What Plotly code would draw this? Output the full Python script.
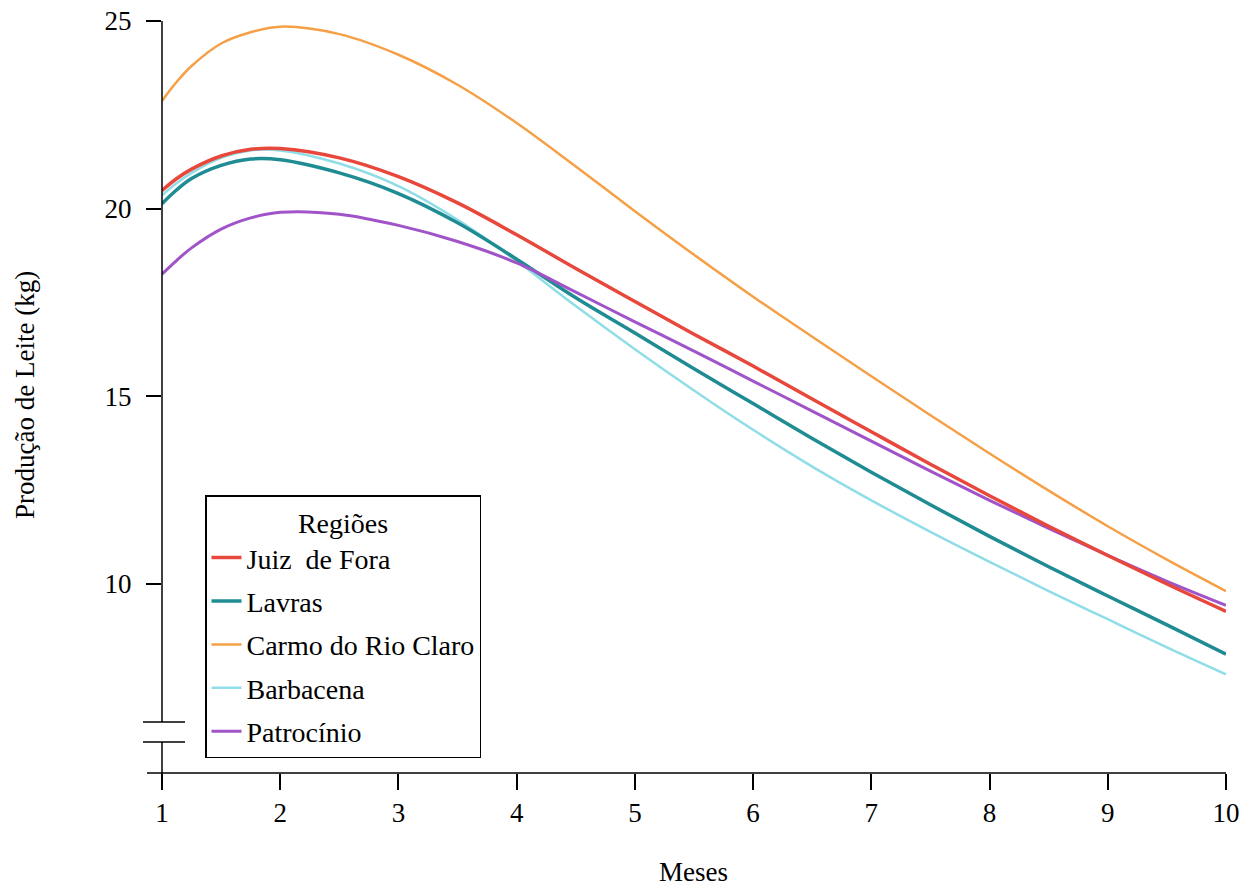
import plotly.graph_objects as go

months = [1, 1.125, 1.25, 1.5, 1.75, 2, 2.5, 3, 3.5, 4, 4.5, 5, 5.5, 6, 6.5, 7, 7.5, 8, 8.5, 9, 9.5, 10]

juiz_de_fora = [20.48, 20.8, 21.05, 21.4, 21.58, 21.6, 21.35, 20.85, 20.15, 19.3, 18.4, 17.52, 16.65, 15.8, 14.92, 14.05, 13.18, 12.34, 11.53, 10.75, 9.99, 9.26]
lavras = [20.13, 20.5, 20.8, 21.15, 21.32, 21.3, 20.95, 20.4, 19.62, 18.65, 17.62, 16.68, 15.73, 14.8, 13.87, 12.97, 12.1, 11.26, 10.45, 9.67, 8.9, 8.12]
carmo = [22.87, 23.38, 23.8, 24.4, 24.7, 24.85, 24.65, 24.1, 23.3, 22.28, 21.12, 19.93, 18.77, 17.65, 16.58, 15.53, 14.49, 13.47, 12.48, 11.53, 10.64, 9.8]
barbacena = [20.35, 20.68, 20.95, 21.35, 21.55, 21.55, 21.2, 20.6, 19.7, 18.6, 17.4, 16.25, 15.15, 14.1, 13.12, 12.22, 11.38, 10.58, 9.8, 9.05, 8.3, 7.58]
patrocinio = [18.25, 18.62, 18.95, 19.45, 19.75, 19.9, 19.85, 19.55, 19.12, 18.55, 17.77, 16.98, 16.2, 15.4, 14.6, 13.8, 13.0, 12.22, 11.47, 10.75, 10.06, 9.42]

series_names = ["Juiz  de Fora", "Lavras", "Carmo do Rio Claro", "Barbacena", "Patrocínio"]
series_values = [juiz_de_fora, lavras, carmo, barbacena, patrocinio]
colors = ["#e8473c", "#1f8b93", "#f5a046", "#8fdde6", "#a054c8"]
widths = [3.5, 3.5, 2.5, 2.5, 3]
draw_order = [2, 3, 1, 4, 0]

x_ticks = list(range(1, 11))
y_ticks = [10, 15, 20, 25]

FONT = "Liberation Serif"

fig = go.Figure()
for i in draw_order:
    fig.add_trace(go.Scatter(
        x=months, y=series_values[i], mode="lines", name=series_names[i],
        line=dict(color=colors[i], width=widths[i], shape="spline", smoothing=1.0),
        legendgroup=f"g{i}", legendrank=i + 1,
    ))

L, R, T, B = 162, 24, 21, 116
W, H = 1250, 889
pw, ph = W - L - R, H - T - B


def px_x(px):
    return (px - L) / pw


def px_y(py):
    return (H - B - py) / ph


line_style = dict(color="black", width=1.5)
shapes = [
    dict(type="line", xref="paper", yref="paper", x0=px_x(147), x1=1, y0=0, y1=0, line=line_style),
    dict(type="line", xref="paper", yref="paper", x0=0, x1=0, y0=1, y1=px_y(722), line=line_style),
    dict(type="line", xref="paper", yref="paper", x0=0, x1=0, y0=px_y(742), y1=px_y(789), line=line_style),
    dict(type="line", xref="paper", yref="paper", x0=px_x(143), x1=px_x(185), y0=px_y(722), y1=px_y(722), line=line_style),
    dict(type="line", xref="paper", yref="paper", x0=px_x(143), x1=px_x(185), y0=px_y(742), y1=px_y(742), line=line_style),
]

fig.update_layout(
    width=W, height=H,
    margin=dict(l=L, r=R, t=T, b=B, autoexpand=False),
    paper_bgcolor="white", plot_bgcolor="white",
    font=dict(family=FONT, size=28, color="black"),
    showlegend=True,
    legend=dict(
        x=px_x(205), y=px_y(495), xanchor="left", yanchor="top",
        bordercolor="black", borderwidth=1.5, bgcolor="white",
        title=dict(text="Regiões", side="top center", font=dict(family=FONT, size=28)),
        font=dict(family=FONT, size=28),
        traceorder="grouped", tracegroupgap=4,
        itemwidth=30,
    ),
    xaxis=dict(
        range=[1, 10], tickvals=x_ticks, ticktext=[str(v) for v in x_ticks],
        ticks="outside", ticklen=16, tickwidth=1.5, tickcolor="black",
        showgrid=False, zeroline=False, showline=False,
        tickfont=dict(family=FONT, size=27), fixedrange=True,
    ),
    yaxis=dict(
        range=[4.95, 25], tickvals=y_ticks, ticktext=[str(v) for v in y_ticks],
        ticks="outside", ticklen=15, tickwidth=1.5, tickcolor="black",
        showgrid=False, zeroline=False, showline=False,
        tickfont=dict(family=FONT, size=27), fixedrange=True,
        ticklabelstandoff=9,
    ),
    shapes=shapes,
    annotations=[
        dict(text="Produção de Leite (kg)", xref="paper", yref="paper", x=px_x(25), y=px_y(395),
             showarrow=False, textangle=-90, font=dict(family=FONT, size=27), xanchor="center", yanchor="middle"),
        dict(text="Meses", xref="paper", yref="paper", x=px_x(693), y=px_y(872),
             showarrow=False, font=dict(family=FONT, size=27), xanchor="center", yanchor="middle"),
    ],
)

fig.write_html("out.html")
